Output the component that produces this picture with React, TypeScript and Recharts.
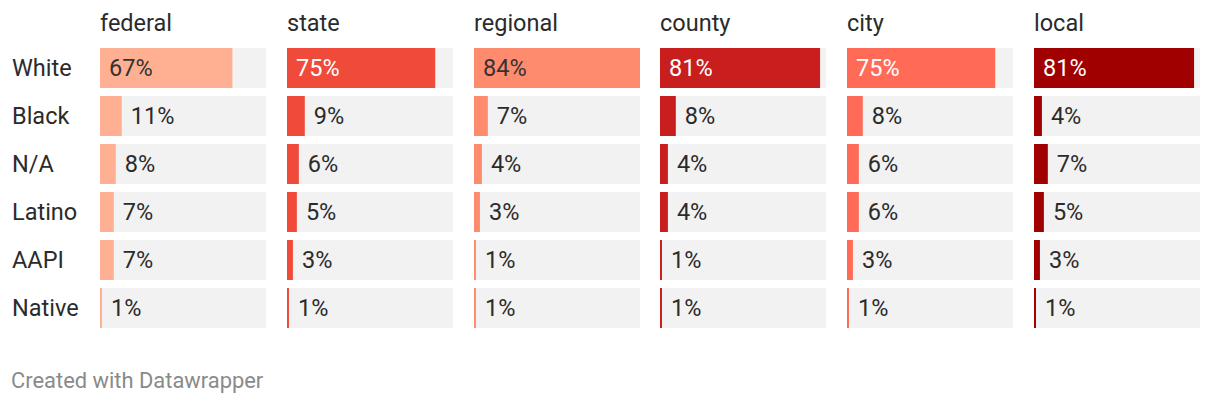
import React from "react";
import { Bar, BarChart, XAxis, YAxis } from "recharts";

const races = ["White", "Black", "N/A", "Latino", "AAPI", "Native"];
const levels = ["federal", "state", "regional", "county", "city", "local"];

const federal = [67, 11, 8, 7, 7, 1];
const state = [75, 9, 6, 5, 3, 1];
const regional = [84, 7, 4, 3, 1, 1];
const county = [81, 8, 4, 4, 1, 1];
const city = [75, 8, 6, 6, 3, 1];
const local = [81, 4, 7, 5, 3, 1];

const columns = [federal, state, regional, county, city, local];
const colors = ["#ffb093", "#ef4a3a", "#ff8b6f", "#c81e1e", "#ff6b57", "#a00000"];
// label colour for the first (inside) label
const insideText = ["#333333", "#ffffff", "#333333", "#ffffff", "#ffffff", "#ffffff"];

const colLeft = [100, 287, 474, 660, 847, 1034];
const BAR_W = 166;
const FONT = "Roboto, 'Noto Sans', sans-serif";
const FS = 23.5;

function ValueLabel(props: any, col: number) {
  const { x, y, width, height, value, index } = props;
  const inside = index === 0;
  return (
    <text
      x={inside ? x + 9 : x + width + 9}
      y={y + height / 2}
      dominantBaseline="central"
      fontSize={FS}
      fontFamily={FONT}
      fill={inside ? insideText[col] : "#2b2b2b"}
    >
      {value}%
    </text>
  );
}

function RaceTick({ y, payload }: any) {
  return (
    <text x={12} y={y} dominantBaseline="central" fontSize={FS} fontFamily={FONT} fill="#2b2b2b">
      {payload.value}
    </text>
  );
}

function Column({ col }: { col: number }) {
  const data = races.map((race, i) => ({ race, value: columns[col][i] }));
  const first = col === 0;
  return (
    <div style={{ position: "absolute", left: first ? 0 : colLeft[col], top: 44 }}>
      <BarChart
        layout="vertical"
        width={first ? colLeft[0] + BAR_W : BAR_W}
        height={288}
        data={data}
        margin={{ top: 0, right: 0, bottom: 0, left: 0 }}
        barCategoryGap={4}
      >
        <XAxis type="number" domain={[0, 84]} hide />
        <YAxis
          type="category"
          dataKey="race"
          hide={!first}
          width={colLeft[0]}
          axisLine={false}
          tickLine={false}
          tick={<RaceTick />}
        />
        <Bar
          dataKey="value"
          fill={colors[col]}
          barSize={40}
          background={{ fill: "#f2f2f2" }}
          isAnimationActive={false}
          label={(p: any) => ValueLabel(p, col)}
        />
      </BarChart>
    </div>
  );
}

export default function App() {
  return (
    <div style={{ position: "absolute", left: 0, top: 0, width: 1220, height: 404, background: "#fff", fontFamily: FONT }}>
      {levels.map((lv, i) => (
        <div
          key={lv}
          style={{ position: "absolute", left: colLeft[i], top: 10, fontSize: FS, lineHeight: "26px", color: "#2b2b2b" }}
        >
          {lv}
        </div>
      ))}
      {levels.map((lv, i) => (
        <Column key={lv} col={i} />
      ))}
      <div style={{ position: "absolute", left: 11, top: 368, fontSize: 21.9, lineHeight: "26px", color: "#8a8a8a" }}>
        Created with Datawrapper
      </div>
    </div>
  );
}
